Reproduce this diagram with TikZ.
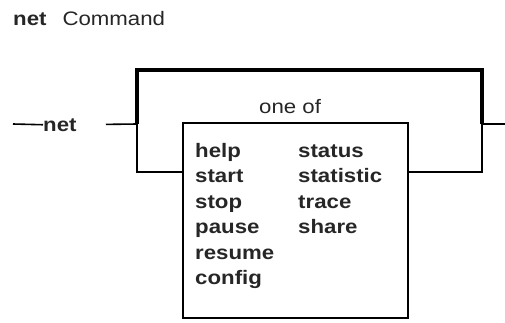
\documentclass[tikz,border=0pt]{standalone}
\usepackage{fontspec}
\setmainfont{Liberation Sans}
\usetikzlibrary{positioning}
\tikzset{
  kw/.style       ={font=\fontsize{19.5}{23}\selectfont\bfseries, inner sep=0pt, xscale=1.14, text=black!85},
  lbl/.style      ={font=\fontsize{19.5}{23}\selectfont, inner sep=0pt, xscale=1.14, text=black!85},
  rail/.style     ={draw=black, line width=1.6pt},
  bypass/.style   ={draw=black, line width=4pt},
  choicebox/.style={draw=black, line width=2pt, minimum width=225pt, minimum height=195pt, inner sep=0pt},
}
\begin{document}
\begin{tikzpicture}[x=1pt,y=-1pt]
\useasboundingbox (0,0) rectangle (505,322);
% title
\node[kw, anchor=base west] (title) at (13,25) {net\hspace{14pt}\mdseries Command};
% main rail
\coordinate (in) at (13,124);
\node[kw, anchor=base west] (net) at (43,131) {net};
\coordinate (split) at (137,124);
\coordinate (join) at (482,124);
\coordinate (out) at (505,124);
\node[choicebox, anchor=north west] (box) at (182,122) {};
\node[lbl, anchor=base west] (oneof) at (259,113) {one of};
\draw[rail] (in) -- (net.west);
\draw[rail, shorten <=29pt] (net.east) -- (split);
\draw[bypass] (split) -- (split |- 0,70) -| (join);
\draw[rail] (split) |- (box.west |- 0,172);
\draw[rail] (box.east |- 0,172) -| (join);
\draw[rail] (join) -- (out);
% choices
\foreach \w [count=\i] in {help,start,stop,pause,resume,config}
  \node[kw, anchor=base west] (left\i) at (195,{131.5+25.5*\i}) {\w};
\foreach \w [count=\i] in {status,statistic,trace,share}
  \node[kw, anchor=base west] (right\i) at (298,{131.5+25.5*\i}) {\w};
\end{tikzpicture}
\end{document}
